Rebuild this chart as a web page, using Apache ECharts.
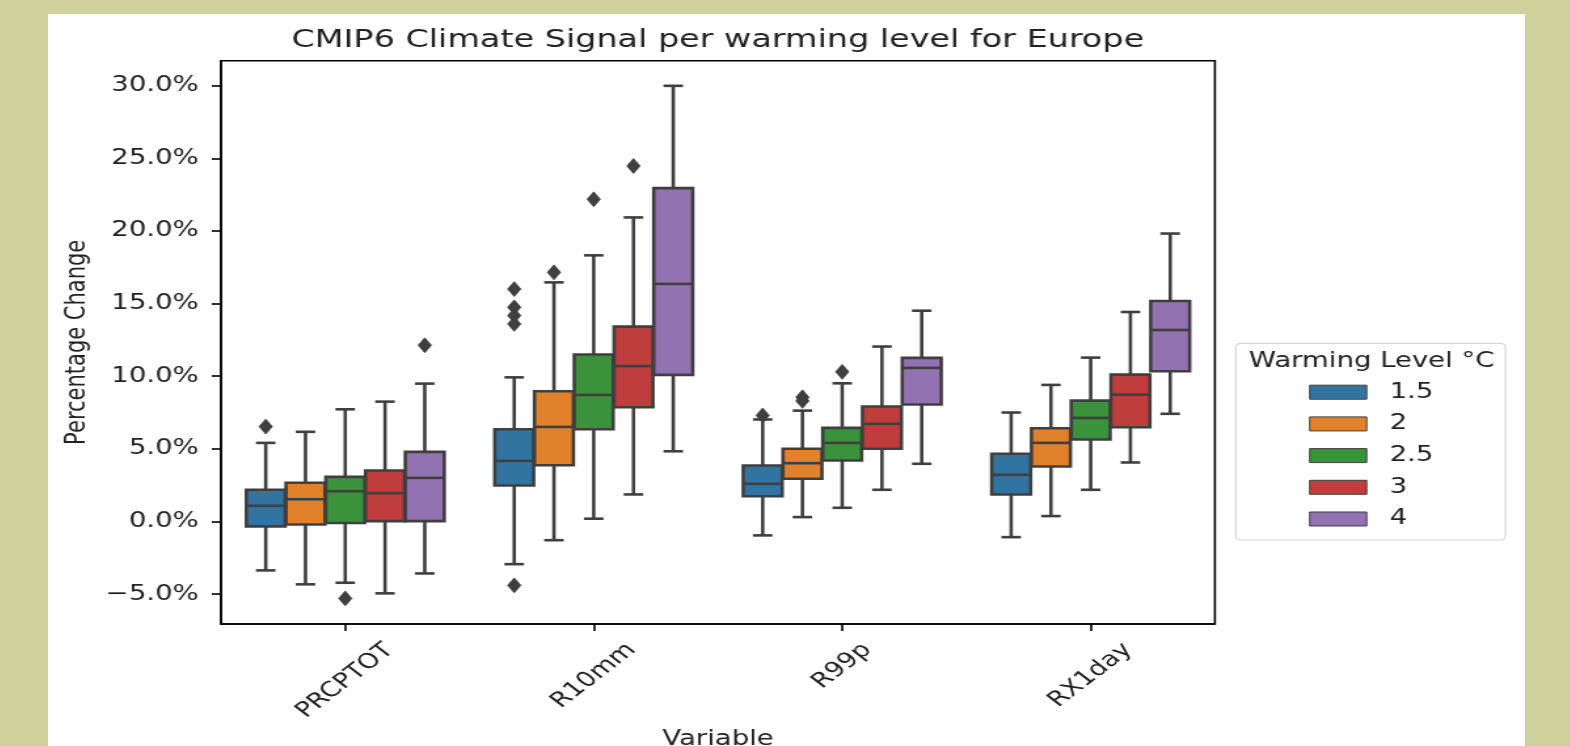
<!DOCTYPE html>
<html><head><meta charset="utf-8">
<script src="https://cdn.jsdelivr.net/npm/echarts@6/dist/echarts.min.js"></script>
<style>
html,body{margin:0;padding:0;background:#cdd29b;width:1570px;height:746px;overflow:hidden;}
#panel{position:absolute;left:48px;top:14px;width:1477px;height:732px;background:#fff;overflow:hidden;}
#chart{position:absolute;left:0;top:0;width:1127px;height:732px;transform:scaleX(1.31055);transform-origin:0 0;}
</style></head><body>
<div id="panel"><div id="chart"></div></div>
<script>
// ---- data (percent change) ----
const categories = ['PRCPTOT', 'R10mm', 'R99p', 'RX1day'];
const levels = ['1.5', '2', '2.5', '3', '4'];
const yTicks = [-5, 0, 5, 10, 15, 20, 25, 30];
// each row: [lower whisker, Q1, median, Q3, upper whisker] for PRCPTOT, R10mm, R99p, RX1day
const box15 = [[-3.37, -0.34, 1.08, 2.18, 5.41], [-2.94, 2.48, 4.17, 6.35, 9.92], [-0.96, 1.74, 2.59, 3.85, 7.02], [-1.08, 1.86, 3.21, 4.66, 7.50]];
const box20 = [[-4.33, -0.21, 1.53, 2.66, 6.17], [-1.29, 3.87, 6.51, 8.96, 16.46], [0.30, 2.94, 4.01, 5.00, 7.63], [0.37, 3.78, 5.41, 6.42, 9.40]];
const box25 = [[-4.22, -0.11, 2.08, 3.07, 7.72], [0.19, 6.35, 8.71, 11.49, 18.32], [0.94, 4.20, 5.41, 6.44, 9.51], [2.18, 5.64, 7.13, 8.32, 11.28]];
const box30 = [[-4.95, 0.02, 1.95, 3.51, 8.25], [1.86, 7.86, 10.70, 13.41, 20.93], [2.18, 5.00, 6.72, 7.91, 12.04], [4.06, 6.49, 8.73, 10.11, 14.42]];
const box40 = [[-3.58, 0.02, 3.00, 4.79, 9.49], [4.83, 10.09, 16.35, 22.95, 29.99], [3.97, 8.05, 10.57, 11.26, 14.51], [7.41, 10.34, 13.18, 15.18, 19.82]];
// outliers: [category index, value]
const out15 = [[0, 6.53], [1, 16.0], [1, 14.74], [1, 14.17], [1, 13.6], [1, -4.4], [2, 7.3]];
const out20 = [[1, 17.15], [2, 8.55], [2, 8.3]];
const out25 = [[0, -5.3], [1, 22.18], [2, 10.3]];
const out30 = [[1, 24.47]];
const out40 = [[0, 12.13]];

const boxes = [box15, box20, box25, box30, box40];
const outs = [out15, out20, out25, out30, out40];
const COLORS = ['#3274a1', '#e1812c', '#3a923a', '#c03d3e', '#9372b2'];
const EDGE = '#3f3f3f';
const LW = 2.6;
const FONT = 'DejaVu Sans';
const TXT = '#222';

function centerX(api, cat, k) {
  const bw = api.size([1, 0])[0];
  return { cx: api.coord([cat, 0])[0] + (k - 2) * 0.16 * bw, bw: bw };
}

function boxRender(k) {
  return function (params, api) {
    const cat = api.value(0);
    const c = centerX(api, cat, k);
    const cx = c.cx, w = c.bw * 0.16 * 0.98;
    const y = i => api.coord([cat, api.value(i)])[1];
    const lo = y(1), q1 = y(2), md = y(3), q3 = y(4), hi = y(5);
    const ls = { stroke: EDGE, lineWidth: LW };
    return {
      type: 'group', children: [
        { type: 'line', shape: { x1: cx, y1: q1, x2: cx, y2: lo }, style: ls },
        { type: 'line', shape: { x1: cx, y1: q3, x2: cx, y2: hi }, style: ls },
        { type: 'line', shape: { x1: cx - w / 4, y1: lo, x2: cx + w / 4, y2: lo }, style: ls },
        { type: 'line', shape: { x1: cx - w / 4, y1: hi, x2: cx + w / 4, y2: hi }, style: ls },
        { type: 'rect', shape: { x: cx - w / 2, y: q3, width: w, height: q1 - q3 }, style: { fill: COLORS[k], stroke: EDGE, lineWidth: LW } },
        { type: 'line', shape: { x1: cx - w / 2, y1: md, x2: cx + w / 2, y2: md }, style: ls }
      ]
    };
  };
}

function outRender(k) {
  return function (params, api) {
    const cat = api.value(0);
    const cx = centerX(api, cat, k).cx;
    const cy = api.coord([cat, api.value(1)])[1];
    const hw = 5, hh = 7.4;
    return {
      type: 'polygon',
      shape: { points: [[cx, cy - hh], [cx + hw, cy], [cx, cy + hh], [cx - hw, cy]] },
      style: { fill: EDGE, stroke: EDGE, lineWidth: 0.8 }
    };
  };
}

const series = [];
levels.forEach((lv, k) => {
  series.push({
    name: lv, type: 'custom', renderItem: boxRender(k),
    itemStyle: { color: COLORS[k] },
    encode: { x: 0, y: [1, 2, 3, 4, 5] },
    data: boxes[k].map((r, i) => [i].concat(r)),
    z: 3
  });
});
levels.forEach((lv, k) => {
  series.push({
    name: 'outliers ' + lv, type: 'custom', renderItem: outRender(k),
    itemStyle: { color: EDGE },
    encode: { x: 0, y: 1 },
    data: outs[k],
    z: 4
  });
});

const labelLens = [21.1, 13.8, 0, 13.2];
const rich = {};
categories.forEach((c, i) => {
  rich['c' + i] = { fontSize: 21, fontFamily: FONT, color: TXT, padding: [labelLens[i], labelLens[i], 0, 0] };
});

const chart = echarts.init(document.getElementById('chart'));
chart.setOption({
  animation: false,
  backgroundColor: '#fff',
  title: [
    { text: 'CMIP6 Climate Signal per warming level for Europe', left: 511, top: 13.5, textAlign: 'center', padding: 0,
      textStyle: { fontSize: 25.5, fontWeight: 'normal', fontFamily: FONT, color: TXT } },
    { text: 'Warming Level °C', left: 1010, top: 337, textAlign: 'center', padding: 0, z: 10,
      textStyle: { fontSize: 21, fontWeight: 'normal', fontFamily: FONT, color: TXT } }
  ],
  legend: {
    data: levels, orient: 'vertical', left: 906.3, top: 329.3,
    padding: [38.4, 55, 10.5, 55.9],
    itemWidth: 43.5, itemHeight: 14, itemGap: 10.7, icon: 'rect',
    itemStyle: { borderColor: EDGE, borderWidth: 1 },
    textStyle: { fontSize: 21, fontFamily: FONT, color: TXT, padding: [0, 0, 0, 12.5] },
    backgroundColor: '#fff', borderColor: '#d6d6d6', borderWidth: 1.2, borderRadius: 4,
    selectedMode: false
  },
  grid: { left: 132, right: 236.6, top: 46.7, bottom: 122, outerBoundsMode: 'none', containLabel: false,
    show: true, borderColor: '#000', borderWidth: 1.6, backgroundColor: 'transparent' },
  xAxis: {
    type: 'category', data: categories,
    name: 'Variable', nameLocation: 'middle', nameGap: 104,
    nameTextStyle: { fontSize: 21, fontFamily: FONT, color: TXT },
    axisLine: { show: true, onZero: false, lineStyle: { color: '#000', width: 1.6 } },
    axisTick: { show: true, alignWithLabel: true, length: 7, lineStyle: { color: '#000', width: 1.6 } },
    axisLabel: {
      interval: 0, rotate: 45, align: 'center', verticalAlign: 'middle', margin: 42,
      fontSize: 21, fontFamily: FONT, color: TXT,
      formatter: (v, i) => '{c' + i + '|' + v + '}', rich: rich
    },
    splitLine: { show: false }
  },
  yAxis: {
    type: 'value', min: -7.06, max: 31.72,
    name: 'Percentage Change', nameLocation: 'middle', nameGap: 92,
    nameTextStyle: { fontSize: 21, fontFamily: FONT, color: TXT },
    axisLine: { show: true, onZero: false, lineStyle: { color: '#000', width: 1.6 } },
    axisTick: { show: true, length: 7, lineStyle: { color: '#000', width: 1.6 }, customValues: yTicks },
    axisLabel: {
      customValues: yTicks, margin: 17, fontSize: 21, fontFamily: FONT, color: TXT,
      formatter: v => (v < 0 ? '\u2212' : '') + Math.abs(v).toFixed(1) + '%'
    },
    splitLine: { show: false }
  },
  series: series
});
</script></body></html>
